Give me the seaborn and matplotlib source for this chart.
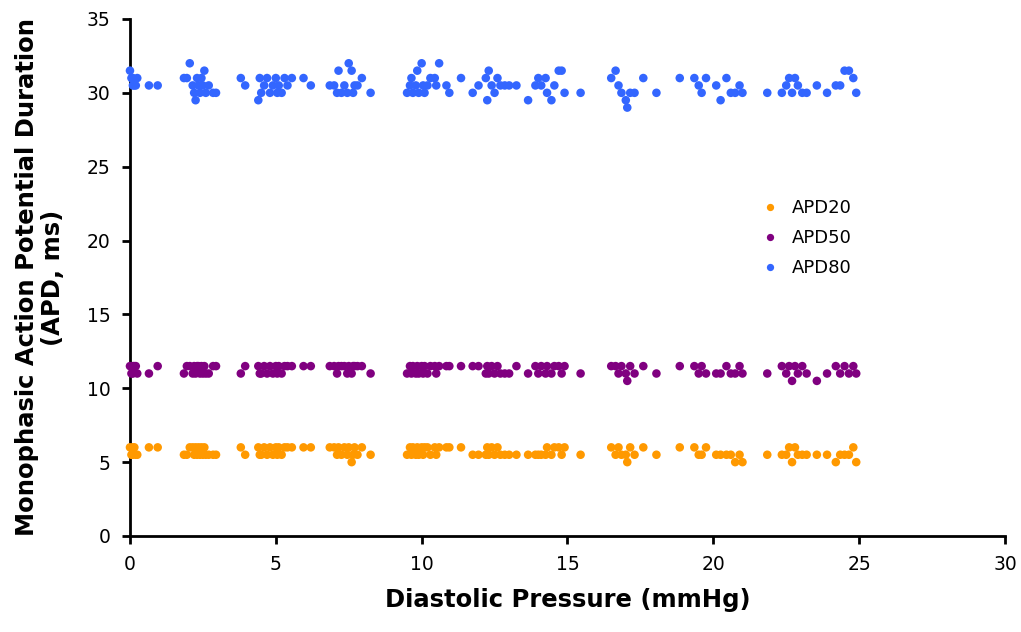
import numpy as np
import pandas as pd
import matplotlib
matplotlib.use("Agg")
import matplotlib.pyplot as plt
import seaborn as sns

# Diastolic pressure (mmHg), shared by the three series
diastolic = [
    0.0, 0.05, 0.1, 0.1, 0.15, 0.2, 0.25, 0.65, 0.95,
    1.85, 1.95, 2.05, 2.15, 2.2, 2.25, 2.3, 2.35, 2.4, 2.45, 2.5, 2.55, 2.6, 2.7, 2.85, 2.95,
    3.8, 3.95, 4.4, 4.45, 4.5, 4.6, 4.7, 4.8, 4.9, 5.0, 5.05, 5.1, 5.2, 5.3, 5.4, 5.55, 5.95, 6.2,
    6.85, 7.0, 7.1, 7.15, 7.25, 7.35, 7.45, 7.5, 7.6, 7.65, 7.7, 7.8, 7.95, 8.25,
    9.5, 9.6, 9.65, 9.7, 9.8, 9.85, 9.9, 10.0, 10.05, 10.1, 10.2, 10.3, 10.45, 10.5, 10.6, 10.85, 10.95,
    11.35, 11.75, 11.95, 12.2, 12.25, 12.3, 12.4, 12.5, 12.6, 12.7, 12.85, 13.0, 13.25,
    13.65, 13.9, 14.0, 14.1, 14.25, 14.3, 14.45, 14.55, 14.7, 14.8, 14.9, 15.45,
    16.5, 16.65, 16.75, 16.85, 17.0, 17.05, 17.15, 17.3, 17.6, 18.05,
    18.85, 19.35, 19.5, 19.6, 19.75, 20.1, 20.25, 20.45, 20.6, 20.75, 20.9, 21.0,
    21.85, 22.35, 22.5, 22.6, 22.7, 22.8, 22.9, 23.05, 23.2, 23.55, 23.9, 24.2, 24.35, 24.5, 24.65, 24.8, 24.9,
]

apd80 = [
    31.5, 31, 30.5, 31, 30.5, 30.5, 31, 30.5, 30.5,
    31, 31, 32, 30.5, 30, 29.5, 31, 30.5, 30, 31, 30.5, 31.5, 30, 30.5, 30, 30,
    31, 30.5, 29.5, 31, 30, 30.5, 31, 30, 30.5, 31, 30, 30.5, 30, 31, 30.5, 31, 31, 30.5,
    30.5, 30.5, 30, 31.5, 30, 30.5, 30, 32, 31.5, 30, 30.5, 30.5, 31, 30,
    30, 30.5, 31, 30, 30.5, 31.5, 30, 32, 30.5, 30, 30.5, 31, 31, 30.5, 32, 30.5, 30,
    31, 30, 30.5, 31, 29.5, 31.5, 30.5, 30, 31, 30.5, 30.5, 30.5, 30.5,
    29.5, 30.5, 31, 30.5, 31, 30, 29.5, 30.5, 31.5, 31.5, 30, 30,
    31, 31.5, 30.5, 30, 29.5, 29, 30, 30, 31, 30,
    31, 31, 30.5, 30, 31, 30.5, 29.5, 31, 30, 30, 30.5, 30,
    30, 30, 30.5, 31, 30, 31, 30.5, 30, 30, 30.5, 30, 30.5, 30.5, 31.5, 31.5, 31, 30,
]

apd50 = [
    11.5, 11, 11.5, 11, 11.5, 11.5, 11, 11, 11.5,
    11, 11.5, 11.5, 11, 11.5, 11, 11.5, 11.5, 11, 11.5, 11, 11.5, 11, 11, 11.5, 11.5,
    11, 11.5, 11.5, 11, 11, 11.5, 11, 11.5, 11, 11.5, 11, 11.5, 11, 11.5, 11.5, 11.5, 11.5, 11.5,
    11.5, 11.5, 11, 11.5, 11.5, 11.5, 11, 11.5, 11, 11.5, 11.5, 11.5, 11.5, 11,
    11, 11.5, 11, 11.5, 11, 11.5, 11, 11.5, 11, 11.5, 11, 11.5, 11.5, 11, 11.5, 11.5, 11.5,
    11.5, 11.5, 11.5, 11, 11.5, 11, 11.5, 11, 11.5, 11, 11, 11, 11.5,
    11, 11.5, 11, 11.5, 11, 11.5, 11, 11.5, 11.5, 11, 11.5, 11,
    11.5, 11.5, 11, 11.5, 11, 10.5, 11.5, 11, 11.5, 11,
    11.5, 11.5, 11, 11.5, 11, 11, 11, 11.5, 11, 11, 11.5, 11,
    11, 11.5, 11, 11.5, 10.5, 11.5, 11, 11.5, 11, 10.5, 11, 11.5, 11, 11.5, 11, 11.5, 11,
]

apd20 = [
    6, 5.5, 6, 5.5, 6, 5.5, 5.5, 6, 6,
    5.5, 5.5, 6, 6, 5.5, 6, 5.5, 6, 5.5, 6, 5.5, 6, 5.5, 5.5, 5.5, 5.5,
    6, 5.5, 6, 5.5, 5.5, 6, 5.5, 6, 5.5, 6, 5.5, 6, 5.5, 6, 6, 6, 6, 6,
    6, 6, 5.5, 6, 5.5, 6, 5.5, 6, 5, 5.5, 6, 5.5, 6, 5.5,
    5.5, 6, 5.5, 6, 5.5, 6, 5.5, 6, 5.5, 6, 6, 5.5, 6, 5.5, 6, 6, 6,
    6, 5.5, 5.5, 5.5, 6, 5.5, 6, 5.5, 6, 5.5, 5.5, 5.5, 5.5,
    5.5, 5.5, 5.5, 5.5, 5.5, 6, 5.5, 6, 6, 5.5, 6, 5.5,
    6, 5.5, 6, 5.5, 5.5, 5, 6, 5.5, 6, 5.5,
    6, 6, 5.5, 5.5, 6, 5.5, 5.5, 5.5, 5.5, 5, 5.5, 5,
    5.5, 5.5, 5.5, 6, 5, 6, 5.5, 5.5, 5.5, 5.5, 5.5, 5, 5.5, 5.5, 5.5, 6, 5,
]

series_names = ["APD20", "APD50", "APD80"]
series_colors = ["#FF9900", "#800080", "#3366FF"]
x_ticks = [0, 5, 10, 15, 20, 25, 30]
y_ticks = [0, 5, 10, 15, 20, 25, 30, 35]

frames = []
for name, vals in zip(series_names, [apd20, apd50, apd80]):
    frames.append(pd.DataFrame({"Diastolic": diastolic, "APD": vals, "Series": name}))
df = pd.concat(frames, ignore_index=True)

sns.set_theme(style="ticks")
plt.rcParams["font.family"] = ["DejaVu Sans"]
plt.rcParams["text.color"] = "black"
plt.rcParams["axes.labelcolor"] = "black"

fig = plt.figure(figsize=(10.21, 6.32), dpi=100)
ax = fig.add_axes([0.1273, 0.1519, 0.8570, 0.8181])

sns.scatterplot(data=df, x="Diastolic", y="APD", hue="Series",
                hue_order=series_names, palette=series_colors,
                s=38, linewidth=0, edgecolor="none", ax=ax, clip_on=False, zorder=3)

ax.set_xlim(0, 30)
ax.set_ylim(0, 35)
ax.set_xticks(x_ticks)
ax.set_yticks(y_ticks)
ax.tick_params(axis="both", direction="out", length=6, width=2, colors="black",
               labelsize=13.5, pad=8)
for s in ["top", "right"]:
    ax.spines[s].set_visible(False)
for s in ["left", "bottom"]:
    ax.spines[s].set_linewidth(2)
    ax.spines[s].set_color("black")

ax.set_xlabel("Diastolic Pressure (mmHg)", fontsize=17.5, fontweight="bold",
              labelpad=10, color="black")
ax.set_ylabel("Monophasic Action Potential Duration\n(APD, ms)", fontsize=17.5,
              fontweight="bold", labelpad=16, linespacing=1.1, color="black")

leg = ax.legend(loc="upper left", bbox_to_anchor=(0.703, 0.665), frameon=False,
                fontsize=13, handletextpad=0.2, labelspacing=0.65, markerscale=0.85,
                borderaxespad=0, title=None)
for t in leg.get_texts():
    t.set_color("black")

fig.savefig("out.png", dpi=100)
